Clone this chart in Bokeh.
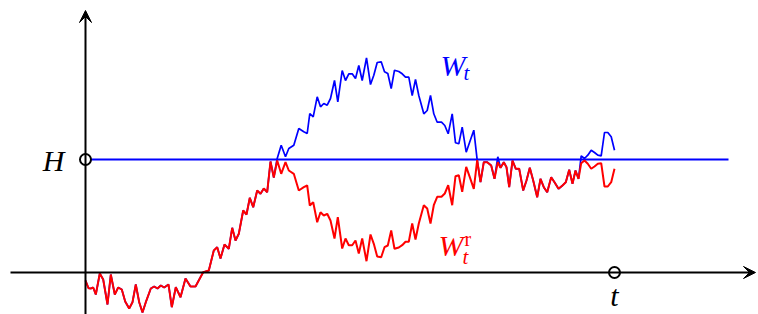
from bokeh.plotting import figure
from bokeh.models import Arrow, VeeHead, Range1d
from bokeh.core.properties import value
from bokeh.embed import file_html
from bokeh.resources import INLINE

# ---- data (arbitrary units: level H = 113, horizon t = 529) ----
H_LEVEL = 113
T_END = 529

times = [0, 3, 5.3, 7.7, 10.3, 14.3, 17.7, 22, 25.3, 29.3, 32.7, 36.3, 39.7, 43.7, 47, 50.3,
         53.7, 57, 60.3, 65.3, 68.7, 72, 75.3, 78.7, 83, 86.3, 90.3, 95, 100, 105, 110, 115,
         117.7, 123.3, 128.3, 131.7, 135, 139, 143.3, 146.7, 150, 153.3, 157.7, 161, 164.3,
         167.7, 171.7, 175, 178.3, 181.7, 185, 188.3, 191.7, 195.7, 200, 203.3, 208.3, 213.3,
         218.3, 221.7, 224.3, 227.7, 231.7, 235, 238.3, 241.7, 245, 249, 252.3, 256.7, 260,
         263.3, 266.7, 270, 273.3, 276.7, 281, 285, 288.3, 291.7, 295.7, 299, 302.3, 305.7,
         309, 313.3, 316.7, 320, 323.3, 326.7, 330, 333.3, 338.3, 341.7, 345, 348.3, 351.7,
         356, 359.3, 362.7, 366.7, 370, 373.3, 376.7, 380.7, 384.3, 388.3, 391.7, 395, 398.3,
         401.7, 405.7, 409, 412.3, 415, 418.3, 421, 423.7, 427, 430.3, 433.7, 437.7, 441,
         444.3, 447.7, 451.7, 455, 458.3, 461.7, 465.7, 469, 473, 477, 480.3, 483.7, 487, 490,
         493, 495.7, 499, 502.3, 505.7, 509, 512.3, 515.7, 519, 522.3, 525.7, 529]

# Brownian path W_t
w_path = [-8, -15.7, -16, -15, -22, -1, -7, -32, -2, -22, -15, -17, -29, -36, -29.7, -12,
          -29.7, -40, -29.7, -16, -14, -16, -13, -15, -12, -34.7, -14.7, -24.7, -6, -14, -14,
          -4.7, 0.3, 2, 22, 25.3, 14, 28, 23.7, 44.7, 32, 38.7, 62, 58, 74.7, 65.3, 82, 78.7,
          84, 80.3, 111, 95, 114, 127.3, 115.7, 124, 127.3, 144, 140.7, 139, 159, 155.7, 175.7,
          165.7, 169, 167.3, 174, 192, 170.7, 202, 192, 198.7, 198.7, 194, 207, 192, 214.7, 188,
          197.3, 210, 210.7, 200.7, 199, 184, 202.3, 201, 198.7, 195.3, 195.3, 177, 193, 177,
          158.7, 162, 177, 158.7, 150.3, 150.3, 147, 138.7, 158.7, 129.7, 128.7, 145.3, 120.3,
          130.7, 142.3, 112.3, 90.3, 110.3, 110.3, 107, 93.7, 115.7, 104.7, 110.3, 105.3, 85.3,
          112, 103.7, 103.7, 82, 92, 104.7, 92, 75.3, 93.7, 85.3, 80.3, 95.3, 90.3, 83.7, 87,
          90.3, 102.7, 88.7, 102, 93.7, 116.7, 114, 117.3, 122.3, 120, 117.3, 116.7, 140, 140,
          135.7, 122.3]

# reflected process W^r_t : reflected at the level H
w_reflected = [min(w, 2 * H_LEVEL - w) for w in w_path]

FONT = "Liberation Serif"
BLUE = "#0000ff"
RED = "#ff0000"
BIG, SUB, SUP = 30, 21, 20
SHIFT = 10   # baseline correction for the SVG text renderer

p = figure(width=758, height=314, output_backend="svg", toolbar_location=None,
           x_range=Range1d(-85, 673), y_range=Range1d(-42, 272),
           x_axis_type=None, y_axis_type=None, min_border=0)
p.grid.visible = False
p.outline_line_color = None
p.background_fill_color = "white"
p.border_fill_color = "white"

# axes with arrow heads
p.add_layout(Arrow(end=VeeHead(size=12, fill_color="black", line_color="black", line_width=1),
                   x_start=-75, y_start=0, x_end=670, y_end=0,
                   line_color="black", line_width=2))
p.add_layout(Arrow(end=VeeHead(size=12, fill_color="black", line_color="black", line_width=1),
                   x_start=0, y_start=-42, x_end=0, y_end=262,
                   line_color="black", line_width=2))

# level H
p.line([0, T_END + 114], [H_LEVEL, H_LEVEL], line_color=BLUE, line_width=2.2)

# paths
p.line(times, w_path, line_color=BLUE, line_width=1.7)
p.line(times, w_reflected, line_color=RED, line_width=2.0)

# open circles at H and t
p.scatter([0, T_END], [H_LEVEL, 0], size=11, fill_color="white",
          line_color="black", line_width=2)


def label(x, y, s, size, color, style="italic", align="left"):
    p.text(x=[x], y=[y + SHIFT], text=[s], text_font=value(FONT), text_font_style=style,
           text_font_size=f"{size}px", text_align=align, text_baseline="alphabetic",
           text_color=color)


label(-21, 102, "H", BIG, "black", align="right")
label(T_END, -33, "t", BIG, "black", align="center")

label(355, 197, "W", BIG, BLUE)
label(378, 190, "t", SUB, BLUE)

label(353, 17, "W", BIG, RED)
label(377, 6, "t", SUB, RED)
label(379, 24, "r", SUP, RED, style="normal")

open("out.html", "w").write(file_html(p, INLINE))
